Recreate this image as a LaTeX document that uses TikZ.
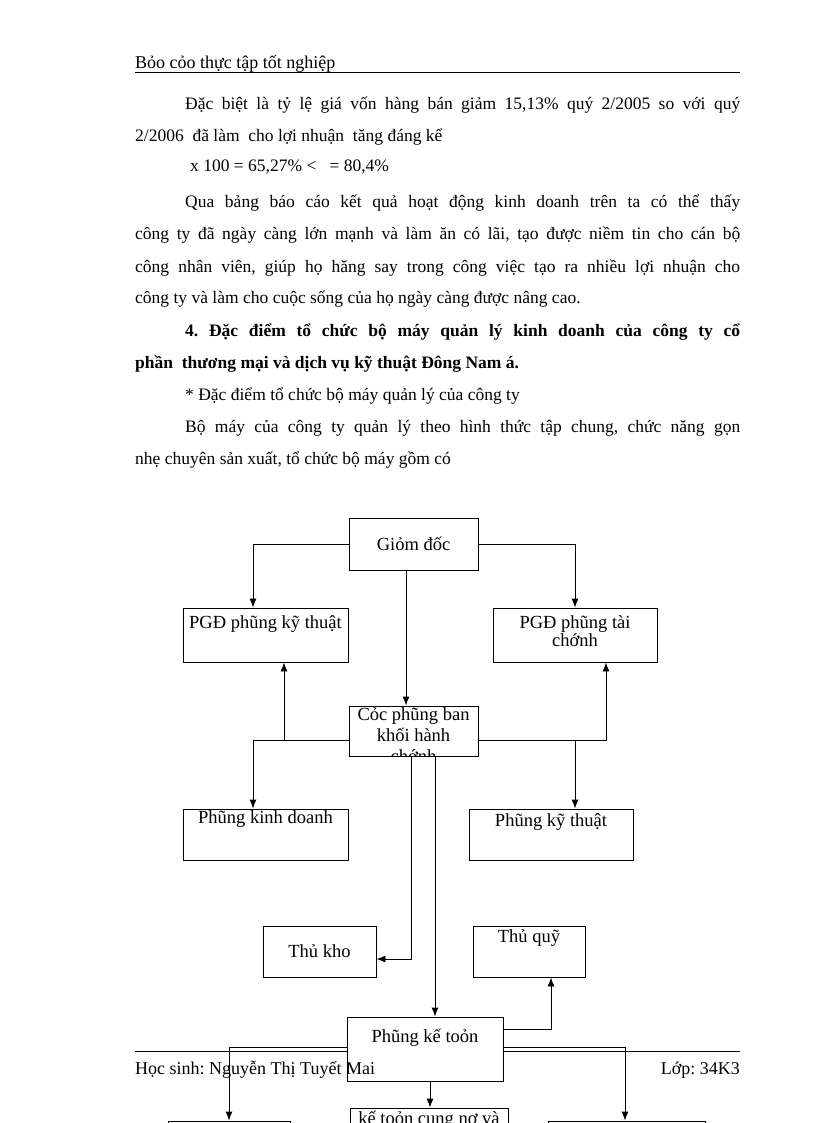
\documentclass[tikz,border=0pt]{standalone}
\usepackage{fontspec}
\setmainfont{Liberation Serif}
\usetikzlibrary{positioning,arrows.meta}
\frenchspacing

\tikzset{
  box/.style={draw, line width=0.9pt, fill=white, inner sep=0pt},
  lbl/.style={font=\fontsize{18.5}{21}\selectfont, align=center, inner sep=0pt},
  arr/.style={line width=0.9pt, -{Latex[length=9pt,width=7pt]}},
  body/.style={font=\fontsize{17.5}{32}\selectfont, anchor=base west, inner sep=0pt,
    text width=605pt, align=justify},
  small/.style={font=\fontsize{18}{20}\selectfont, inner sep=0pt},
}

\begin{document}
\begin{tikzpicture}[x=1pt,y=-1pt]
\useasboundingbox (0,0) rectangle (816,1123);
\clip (0,0) rectangle (816,1123);

% header
\node[small, anchor=base west] (head) at (135,69) {Bỏo cỏo thực tập tốt nghiệp};
\draw[line width=0.8pt] (135,72) -- (740,72);

% text
\node[body] (p1) at (135,110) {\hspace*{50pt}Đặc biệt là tỷ lệ giá vốn hàng bán giảm 15,13\% quý 2/2005 so với quý\linebreak
2/2006\ \ đã làm\ \ cho lợi nhuận\ \ tăng đáng kể};
\node[body, text width=] (p2) at (190,172) {x 100 = 65,27\% <\ \ \ = 80,4\%};
\node[body] (p3) at (135,208) {\hspace*{50pt}Qua bảng báo cáo kết quả hoạt động kinh doanh trên ta có thể thấy\linebreak
công ty đã ngày càng lớn mạnh và làm ăn có lãi, tạo được niềm tin cho cán bộ\linebreak
công nhân viên, giúp họ hăng say trong công việc tạo ra nhiều lợi nhuận cho\linebreak
công ty và làm cho cuộc sống của họ ngày càng được nâng cao.};
\node[body, font=\fontsize{17.5}{32}\selectfont\bfseries] (p4) at (135,336) {\hspace*{50pt}4. Đặc điểm tổ chức bộ máy quản lý kinh doanh của công ty cổ\linebreak
phần\ \ thương mại và dịch vụ kỹ thuật Đông Nam á.};
\node[body] (p5) at (135,400) {\hspace*{50pt}* Đặc điểm tổ chức bộ máy quản lý của công ty};
\node[body] (p6) at (135,432) {\hspace*{50pt}Bộ máy của công ty quản lý theo hình thức tập chung, chức năng gọn\linebreak
nhẹ chuyên sản xuất, tổ chức bộ máy gồm có};

% footer rule (under the boxes)
\draw[line width=0.8pt] (135,1051) -- (740,1051);

% boxes
\node[box, minimum width=129pt, minimum height=52pt] (gd) at (413.5,544) {};
\node[box, minimum width=165pt, minimum height=54pt] (pgdkt) at (265.5,635) {};
\node[box, minimum width=164pt, minimum height=54pt] (pgdtc) at (575,635) {};
\node[box, minimum width=129pt, minimum height=50pt] (cocban) at (413.5,731) {};
\node[box, minimum width=165pt, minimum height=51pt] (kd) at (265.5,834.5) {};
\node[box, minimum width=164pt, minimum height=51pt] (pkt) at (551,834.5) {};
\node[box, minimum width=113pt, minimum height=51pt] (thukho) at (319.5,951.5) {};
\node[box, minimum width=112pt, minimum height=51pt] (thuquy) at (529,951.5) {};
\node[box, minimum width=156pt, minimum height=64pt] (ketoan) at (425,1049) {};
\node[box, minimum width=122pt, minimum height=40pt] (ktleft) at (229,1141) {};
\node[box, minimum width=158pt, minimum height=40pt] (ktmid) at (429,1128) {};
\node[box, minimum width=157pt, minimum height=40pt] (ktright) at (626.5,1141) {};

% labels
\node[lbl] (gdt) at (gd) {Giỏm đốc};
\node[lbl, below=8pt of pgdkt.north] (pgdktt) {PGĐ phũng kỹ thuật};
\node[lbl, font=\fontsize{18.5}{16.5}\selectfont, below=8pt of pgdtc.north] (pgdtct) {PGĐ phũng tài\\chớnh};
\begin{scope}
  \clip (cocban.south west) rectangle (cocban.north east);
  \node[lbl, below=2pt of cocban.north] (cocbant) {Cỏc phũng ban\\khối hành\\chớnh};
\end{scope}
\node[lbl, below=2pt of kd.north] (kdt) {Phũng kinh doanh};
\node[lbl, below=5pt of pkt.north] (pktt) {Phũng kỹ thuật};
\node[lbl] (thukhot) at (thukho) {Thủ kho};
\node[lbl, below=4pt of thuquy.north] (thuquyt) {Thủ quỹ};
\node[lbl, below=12pt of ketoan.north] (ketoant) {Phũng kế toỏn};
\node[lbl, below=3pt of ktmid.north] (ktmidt) {kế toỏn cung nợ và};

% connectors
\draw[arr] (gd.west) -| ([xshift=-12.5pt]pgdkt.north);
\draw[arr] (gd.east) -| (pgdtc.north);
\draw[arr] ([xshift=-7.5pt]gd.south) -- ([xshift=-7.5pt]cocban.north);
\draw[arr] ([yshift=-9pt]cocban.west) -| ([xshift=-12.5pt]kd.north);
\draw[arr] ([yshift=-9pt]cocban.west) -| ([xshift=18.5pt]pgdkt.south);
\draw[arr] ([yshift=-9pt]cocban.east) -| ([xshift=31pt]pgdtc.south);
\draw[arr] ([yshift=-9pt]cocban.east) -| ([xshift=24pt]pkt.north);
\draw[arr] ([xshift=-2.5pt]cocban.south) |- ([yshift=-7.5pt]thukho.east);
\draw[arr] ([xshift=21.5pt]cocban.south) -- ([xshift=10pt]ketoan.north);
\draw[arr] ([yshift=20pt]ketoan.east) -| ([xshift=22pt]thuquy.south);
\draw[arr] ([yshift=2pt]ketoan.west) -| (ktleft.north);
\draw[arr] ([yshift=2pt]ketoan.east) -| ([xshift=-1.5pt]ktright.north);
\draw[arr] ([xshift=5pt]ketoan.south) -- ([xshift=1pt]ktmid.north);

% footer
\node[small, anchor=base west] (student) at (135,1074) {Học sinh: Nguyễn Thị Tuyết Mai};
\node[small, anchor=base east] (lop) at (740,1074) {Lớp: 34K3};
\end{tikzpicture}
\end{document}
